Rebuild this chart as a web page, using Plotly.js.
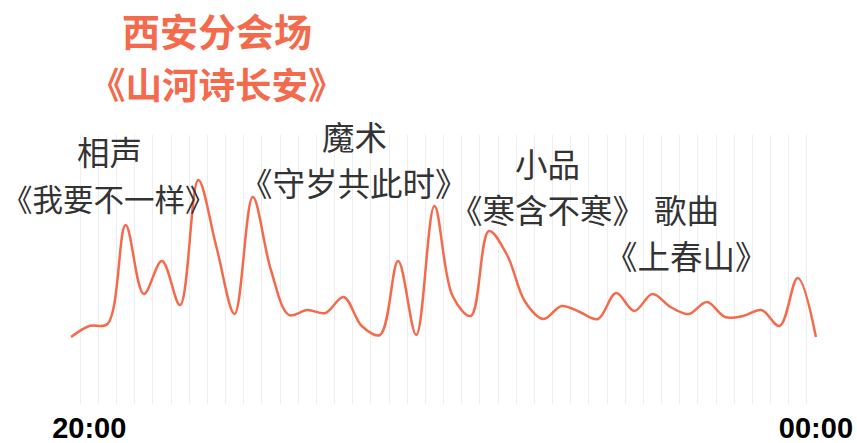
<!DOCTYPE html>
<html>
<head>
<meta charset="utf-8">
<script src="https://cdn.plot.ly/plotly-3.0.1.min.js"></script>
<style>html,body{margin:0;padding:0;background:#fff;}#chart{width:857px;height:443px;}</style>
</head>
<body>
<div id="chart"></div>
<script>
// 42 time slots from 20:00 to 00:00 (category index)
const slots = Array.from({length: 42}, (_, i) => i);
// relative heat values
const heat = [67, 78, 80, 179, 110, 143, 99, 224, 157, 90,
              207, 134, 89, 94, 91, 107, 78, 69, 143, 69,
              198, 108, 88, 173, 149, 102, 85, 98, 92, 85,
              111, 93, 110, 97, 90, 102, 87, 88, 94, 78,
              126, 67];
const tickPositions = [1, 41];
const tickLabels = ['20:00', '00:00'];
const titleLines = ['西安分会场', '《山河诗长安》'];
const programLabels = [
  {slot: 2.1, lines: ['相声', '《我要不一样》'], tops: [150, 198], sizes: [32.5, 30.5]},
  {slot: 15.6, lines: ['魔术', '《守岁共此时》'], tops: [135, 181], sizes: [32.5, 32.5]},
  {slot: 26.2, lines: ['小品', '《寒含不寒》'], tops: [162, 208], sizes: [32.5, 32.5]},
  {slot: 33.9, lines: ['歌曲', '《上春山》'], tops: [208, 254], sizes: [32.5, 32.5]}
];

const W = 857, H = 443;
const M = {l: 62, r: 32, t: 135, b: 39};
const plotH = H - M.t - M.b;
const pyToPaper = py => (H - M.b - py) / plotH;
const pxToPaper = px => (px - M.l) / (W - M.l - M.r);

const boundaries = Array.from({length: slots.length + 1}, (_, i) => i - 0.5);

const annotations = [];
const titleY = [30, 83];
const titleSize = [38, 36.5];
titleLines.forEach((t, k) => {
  annotations.push({
    text: t, xref: 'paper', yref: 'paper', x: pxToPaper(217), y: pyToPaper(titleY[k]),
    xanchor: 'center', yanchor: 'middle', showarrow: false,
    font: {family: 'Noto Sans CJK SC', size: titleSize[k], weight: 'bold', color: '#f36b4c'}
  });
});
programLabels.forEach(p => {
  p.lines.forEach((t, k) => {
    annotations.push({
      text: t, xref: 'x', yref: 'paper', x: p.slot, y: pyToPaper(p.tops[k]),
      xanchor: 'center', yanchor: 'middle', showarrow: false,
      font: {family: 'Noto Sans CJK SC', size: p.sizes[k], color: '#333333'}
    });
  });
});

const trace = {
  x: slots, y: heat, type: 'scatter', mode: 'lines',
  line: {shape: 'spline', smoothing: 1, color: '#f36b4c', width: 2.5},
  hoverinfo: 'skip'
};
const trace2 = {x: [0], y: [null], xaxis: 'x2', yaxis: 'y', type: 'scatter', mode: 'lines', showlegend: false, hoverinfo: 'skip'};

const layout = {
  width: W, height: H,
  margin: M,
  paper_bgcolor: '#ffffff', plot_bgcolor: '#ffffff',
  showlegend: false,
  xaxis: {
    range: [-0.5, slots.length - 0.5], tickmode: 'array', tickvals: boundaries,
    showticklabels: false, showgrid: true, gridcolor: '#eeeeee', gridwidth: 1,
    zeroline: false, showline: false, ticks: '', fixedrange: true
  },
  xaxis2: {
    overlaying: 'x', anchor: 'y', side: 'bottom',
    range: [-0.5, slots.length - 0.5], tickmode: 'array', tickvals: tickPositions, ticktext: tickLabels,
    showgrid: false, zeroline: false, showline: false, ticks: '', automargin: false,
    ticklabelstandoff: 4,
    tickfont: {family: 'Liberation Sans, Arial, sans-serif', size: 29, weight: 'bold', color: '#000000'}
  },
  yaxis: {range: [0, plotH], visible: false, showgrid: false, zeroline: false, fixedrange: true},
  annotations: annotations
};

Plotly.newPlot('chart', [trace, trace2], layout, {displayModeBar: false, staticPlot: true});
</script>
</body>
</html>
